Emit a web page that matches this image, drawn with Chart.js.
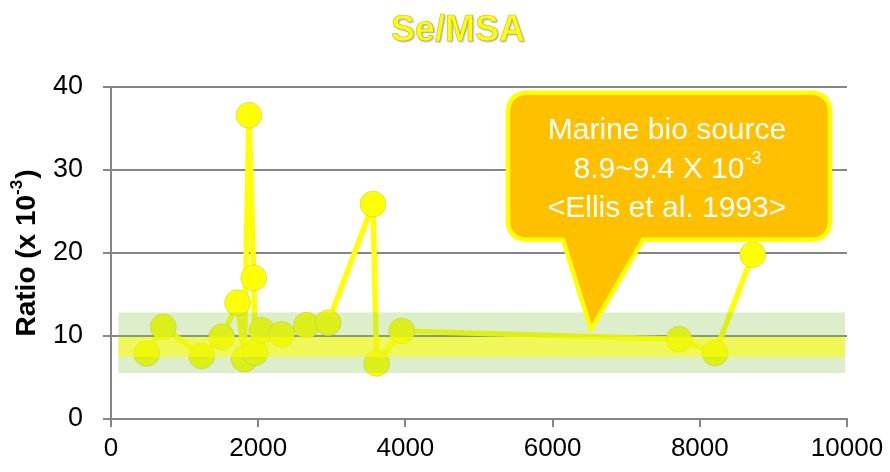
<!DOCTYPE html>
<html>
<head>
<meta charset="utf-8">
<script src="https://cdn.jsdelivr.net/npm/chart.js@4.4.1/dist/chart.umd.min.js"></script>
<style>
  html, body { margin: 0; padding: 0; background: #ffffff; }
  #wrap { width: 890px; height: 472px; }
</style>
</head>
<body>
<div id="wrap"><canvas id="c" width="890" height="472"></canvas></div>
<script>
// ---- data ----
const chartTitle = "Se/MSA";
const yAxisTitleMain = "Ratio (x 10";
const yAxisTitleSup = "-3";
const yAxisTitleEnd = ")";
const xValues = [485, 711, 1232, 1504, 1720, 1810, 1875, 1940, 1960, 2050, 2318, 2656, 2950, 3560, 3610, 3950, 7717, 8207, 8718];
const ratioValues = [7.9, 11.1, 7.6, 9.9, 14.0, 7.2, 36.6, 17.0, 8.0, 10.7, 10.2, 11.3, 11.6, 25.9, 6.7, 10.6, 9.6, 7.95, 19.8];
const xTicks = [0, 2000, 4000, 6000, 8000, 10000];
const yTicks = [0, 10, 20, 30, 40];
// shaded ranges (ratio units)
const outerBand = [5.54, 12.84];
const innerBand = [7.47, 9.88];
// callout text and anchor (data units)
const calloutLines = ["Marine bio source", "8.9~9.4 X 10", "<Ellis et al. 1993>"];
const calloutSup = "-3";
const calloutBox = { x0: 5394, x1: 9769, yTop: 39.3, yBottom: 21.6 };
const calloutPointer = { base0: 6141, base1: 7228, tipX: 6522, tipY: 10.77 };

const points = xValues.map((x, i) => ({ x: x, y: ratioValues[i] }));

const FONT = "'Liberation Sans', Arial, sans-serif";

const bandsPlugin = {
  id: 'bands',
  afterDatasetsDraw(chart) {
    const { ctx, chartArea, scales } = chart;
    const y = scales.y;
    const xl = scales.x.getPixelForValue(100);
    const xr = chartArea.right - 2;
    ctx.save();
    ctx.fillStyle = 'rgba(144,203,85,0.31)';
    const o0 = y.getPixelForValue(outerBand[1]), o1 = y.getPixelForValue(outerBand[0]);
    ctx.fillRect(xl, o0, xr - xl, o1 - o0);
    ctx.fillStyle = 'rgba(255,255,0,0.56)';
    const i0 = y.getPixelForValue(innerBand[1]), i1 = y.getPixelForValue(innerBand[0]);
    ctx.fillRect(xl, i0, xr - xl, i1 - i0);
    ctx.restore();
  }
};

const calloutPlugin = {
  id: 'callout',
  afterDraw(chart) {
    const { ctx, scales } = chart;
    const sx = scales.x, sy = scales.y;
    const L = sx.getPixelForValue(calloutBox.x0), R = sx.getPixelForValue(calloutBox.x1);
    const T = sy.getPixelForValue(calloutBox.yTop), B = sy.getPixelForValue(calloutBox.yBottom);
    const b0 = sx.getPixelForValue(calloutPointer.base0), b1 = sx.getPixelForValue(calloutPointer.base1);
    const tx = sx.getPixelForValue(calloutPointer.tipX), ty = sy.getPixelForValue(calloutPointer.tipY);
    const r = 20;
    ctx.save();
    ctx.beginPath();
    ctx.moveTo(L + r, T);
    ctx.lineTo(R - r, T);
    ctx.quadraticCurveTo(R, T, R, T + r);
    ctx.lineTo(R, B - r);
    ctx.quadraticCurveTo(R, B, R - r, B);
    ctx.lineTo(b1, B);
    ctx.lineTo(tx, ty);
    ctx.lineTo(b0, B);
    ctx.lineTo(L + r, B);
    ctx.quadraticCurveTo(L, B, L, B - r);
    ctx.lineTo(L, T + r);
    ctx.quadraticCurveTo(L, T, L + r, T);
    ctx.closePath();
    ctx.fillStyle = '#FFC000';
    ctx.fill();
    ctx.lineWidth = 4.5;
    ctx.strokeStyle = '#FFFF00';
    ctx.lineJoin = 'round';
    ctx.stroke();

    const cx = (L + R) / 2 - 2;
    ctx.fillStyle = '#ffffff';
    ctx.textAlign = 'center';
    ctx.textBaseline = 'middle';
    ctx.font = '30px ' + FONT;
    const lineH = 39;
    const y1 = T + 38;
    ctx.fillText(calloutLines[0], cx, y1);
    const main = calloutLines[1];
    const wMain = ctx.measureText(main).width;
    ctx.font = '18px ' + FONT;
    const wSup = ctx.measureText(calloutSup).width;
    const start = cx - (wMain + wSup) / 2;
    ctx.textAlign = 'left';
    ctx.font = '30px ' + FONT;
    ctx.fillText(main, start, y1 + lineH);
    ctx.font = '18px ' + FONT;
    ctx.fillText(calloutSup, start + wMain + 1, y1 + lineH - 11);
    ctx.textAlign = 'center';
    ctx.font = '30px ' + FONT;
    ctx.fillText(calloutLines[2], cx, y1 + 2 * lineH);
    ctx.restore();
  }
};

const titlePlugin = {
  id: 'customTitle',
  afterDraw(chart) {
    const { ctx, chartArea } = chart;
    ctx.save();
    ctx.font = 'bold 36px ' + FONT;
    ctx.textAlign = 'center';
    ctx.textBaseline = 'middle';
    ctx.shadowColor = 'rgba(0,0,0,0.35)';
    ctx.shadowBlur = 2;
    ctx.shadowOffsetX = 1;
    ctx.shadowOffsetY = 1;
    ctx.fillStyle = '#FFFF00';
    ctx.fillText(chartTitle, 458, 31);
    ctx.shadowColor = 'transparent';
    ctx.lineWidth = 0.6;
    ctx.strokeStyle = 'rgba(150,150,120,0.7)';
    ctx.strokeText(chartTitle, 458, 31);

    // y axis title with superscript
    const cy = (chartArea.top + chartArea.bottom) / 2;
    ctx.translate(25, cy);
    ctx.rotate(-Math.PI / 2);
    ctx.fillStyle = '#000000';
    ctx.textBaseline = 'middle';
    ctx.textAlign = 'left';
    ctx.font = 'bold 28px ' + FONT;
    const w1 = ctx.measureText(yAxisTitleMain).width;
    const w3 = ctx.measureText(yAxisTitleEnd).width;
    ctx.font = 'bold 17px ' + FONT;
    const w2 = ctx.measureText(yAxisTitleSup).width;
    const total = w1 + w2 + w3 + 1;
    let x = -total / 2;
    ctx.font = 'bold 28px ' + FONT;
    ctx.fillText(yAxisTitleMain, x, 2);
    x += w1;
    ctx.font = 'bold 17px ' + FONT;
    ctx.fillText(yAxisTitleSup, x, -8);
    x += w2 + 1;
    ctx.font = 'bold 28px ' + FONT;
    ctx.fillText(yAxisTitleEnd, x, 2);
    ctx.restore();
  }
};

new Chart(document.getElementById('c'), {
  type: 'scatter',
  data: {
    datasets: [{
      data: points,
      showLine: true,
      tension: 0,
      borderColor: '#FFFF00',
      borderWidth: 5.5,
      pointRadius: 13,
      pointHoverRadius: 13,
      pointBackgroundColor: '#FFFF00',
      pointBorderColor: 'rgba(170,170,120,0.35)',
      pointBorderWidth: 1
    }]
  },
  options: {
    responsive: false,
    animation: false,
    devicePixelRatio: 1,
    layout: { padding: { top: 87, right: 43, left: 0, bottom: 0 } },
    plugins: { legend: { display: false }, tooltip: { enabled: false }, title: { display: false } },
    scales: {
      x: {
        type: 'linear',
        min: 0, max: 10000,
        afterBuildTicks: s => { s.ticks = xTicks.map(v => ({ value: v })); },
        afterFit: s => { s.height = 53; },
        grid: { drawOnChartArea: false, drawTicks: true, tickLength: 8, color: '#868686', lineWidth: 2 },
        border: { display: true, color: '#868686', width: 2 },
        ticks: { color: '#000000', font: { family: FONT, size: 26 }, padding: 6, maxRotation: 0, callback: v => String(v) }
      },
      y: {
        min: 0, max: 40,
        afterBuildTicks: s => { s.ticks = yTicks.map(v => ({ value: v })); },
        afterFit: s => { s.width = 111; },
        grid: { drawTicks: true, tickLength: 8, color: '#868686', lineWidth: 2 },
        border: { display: true, color: '#868686', width: 2 },
        ticks: { color: '#000000', font: { family: FONT, size: 27 }, padding: 20, callback: v => String(v) }
      }
    }
  },
  plugins: [bandsPlugin, calloutPlugin, titlePlugin]
});
</script>
</body>
</html>
